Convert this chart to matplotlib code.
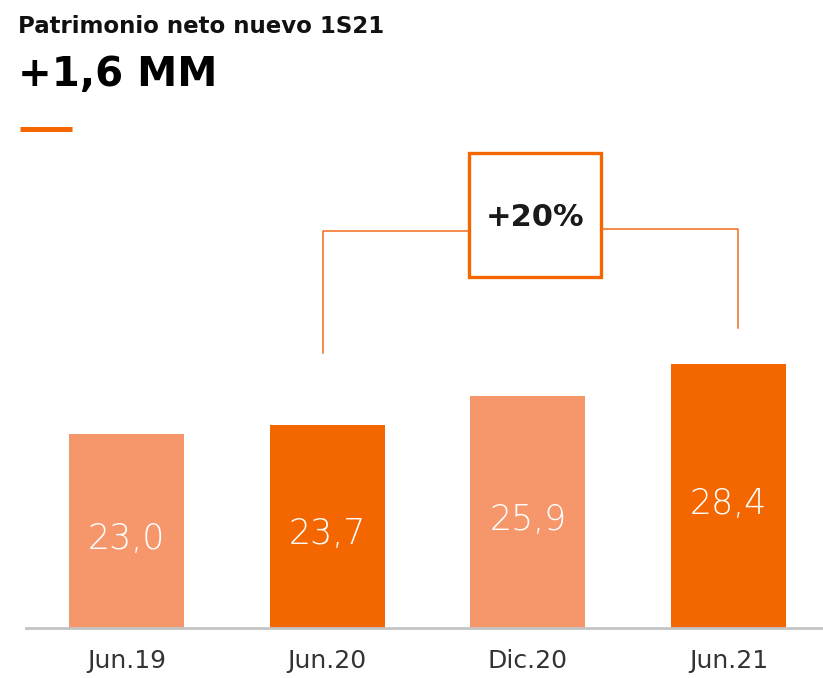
import matplotlib
matplotlib.use("Agg")
import matplotlib.pyplot as plt
from matplotlib.patches import Rectangle
from matplotlib.lines import Line2D

# data
periods = ["Jun.19", "Jun.20", "Dic.20", "Jun.21"]
values = [23.0, 23.7, 25.9, 28.4]
labels = ["23,0", "23,7", "25,9", "28,4"]
growth_label = "+20%"

dark = "#F46600"
light = "#F5966B"
bar_colors = [light, dark, light, dark]

fig = plt.figure(figsize=(8.23, 6.78), dpi=100)
ax = fig.add_axes([26 / 823, 50 / 678, 1 - 26 / 823, 488 / 678])

x = range(len(periods))
base = 8
ax.bar(x, [v - base for v in values], bottom=base, width=0.572, color=bar_colors)
ax.set_xlim(-0.5, 3.47)
ax.set_ylim(base, base + 488 / 12.96)

for i, (v, t) in enumerate(zip(values, labels)):
    ax.text(i, (v + base) / 2 - 0.6, t, ha="center", va="center",
            color="white", fontsize=25, fontweight="light")

# growth bracket between Jun.20 and Jun.21
bc = "#F26B1D"
top_y = 38.6
ax.plot([0.978, 0.978, 1.709], [values[1] + 5.5, top_y, top_y], color=bc, lw=1.1)
ax.plot([2.376, 3.047, 3.047], [top_y + 0.2, top_y + 0.2, values[3] + 2.75], color=bc, lw=1.1)
ax.add_patch(Rectangle((1.709, 35.1), 0.657, 9.55, fill=False, edgecolor=dark, lw=2.4))
ax.text(2.037, 39.7, growth_label, ha="center", va="center",
        fontsize=22, fontweight="bold", color="#1a1a1a")

ax.set_xticks(list(x))
ax.set_xticklabels(periods, fontsize=18, color="#333333")
ax.tick_params(axis="x", length=0, pad=15)
ax.set_yticks([])
for s in ["top", "right", "left"]:
    ax.spines[s].set_visible(False)
ax.spines["bottom"].set_color("#c4c4c4")
ax.spines["bottom"].set_linewidth(2)

fig.text(18 / 823, 1 - 33 / 678, "Patrimonio neto nuevo 1S21", fontsize=16.5,
         fontweight="bold", color="#111111", va="baseline")
fig.text(18 / 823, 1 - 86 / 678, "+1,6 MM", fontsize=29, fontweight="heavy",
         color="black", va="baseline")
fig.add_artist(Line2D([20 / 823, 72 / 823], [1 - 129 / 678, 1 - 129 / 678],
                      color=dark, lw=3.6, solid_capstyle="butt"))

fig.savefig("out.png", dpi=100)
